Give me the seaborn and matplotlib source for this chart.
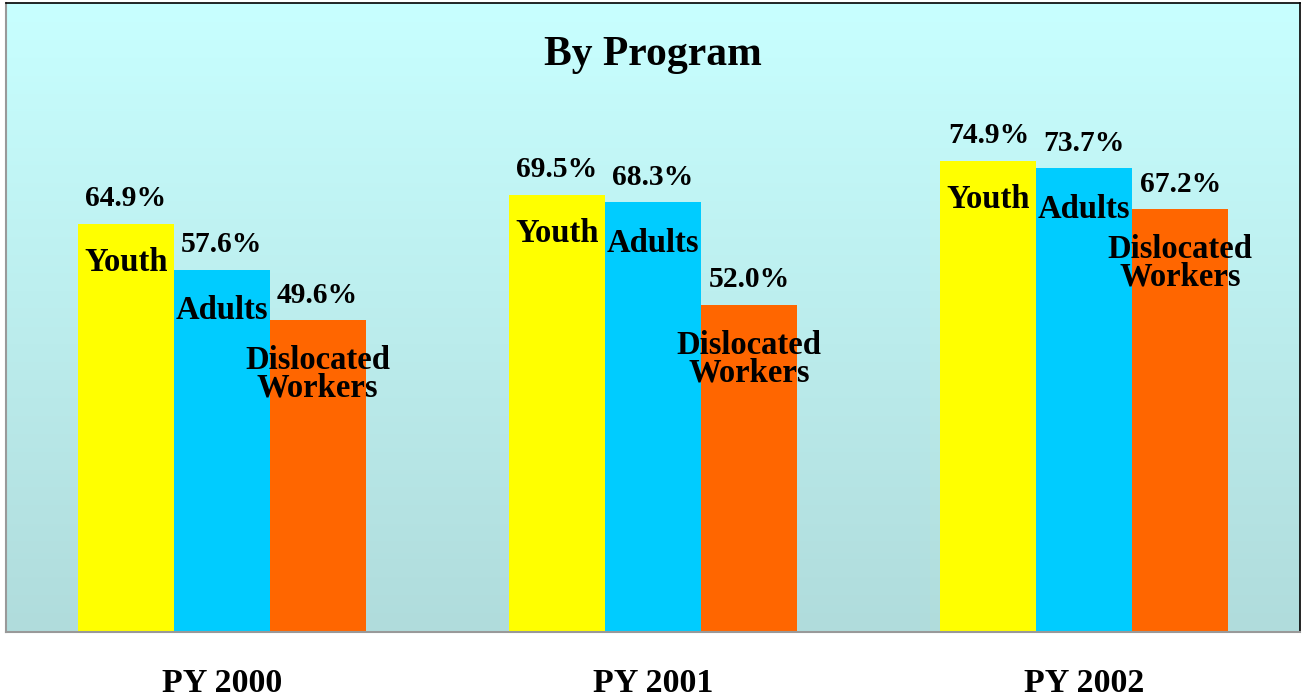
import numpy as np
import pandas as pd
import seaborn as sns
import matplotlib.pyplot as plt
from matplotlib.colors import LinearSegmentedColormap

# data
years = ['PY 2000', 'PY 2001', 'PY 2002']
programs = ['Youth', 'Adults', 'Dislocated\nWorkers']
youth = [64.9, 69.5, 74.9]
adults = [57.6, 68.3, 73.7]
dislocated = [49.6, 52.0, 67.2]
colors = ['#FFFF00', '#00CCFF', '#FF6600']

rows = []
for prog, vals in zip(programs, [youth, adults, dislocated]):
    for yr, v in zip(years, vals):
        rows.append({'year': yr, 'program': prog, 'value': v})
df = pd.DataFrame(rows)

sns.set_style('white')
plt.rcParams['font.family'] = ['Liberation Serif', 'DejaVu Serif']
plt.rcParams['font.weight'] = 'bold'
plt.rcParams['text.color'] = 'black'
plt.rcParams['xtick.color'] = 'black'

fig = plt.figure(figsize=(13.07, 7), dpi=100)
ax = fig.add_axes([6 / 1307, 68 / 700, 1294 / 1307, 629 / 700])

# gradient background
cmap = LinearSegmentedColormap.from_list('bg', ['#B0DCDC', '#C8FFFF'])
grad = np.linspace(0, 1, 256).reshape(-1, 1)
ax.imshow(grad, cmap=cmap, origin='lower', aspect='auto',
          extent=[-0.5, 2.5, 0, 100], zorder=0)

sns.barplot(data=df, x='year', y='value', hue='program', hue_order=programs,
            palette=colors, width=0.667, saturation=1, legend=False, ax=ax,
            linewidth=0, zorder=2)

ax.set_xlim(-0.5, 2.5)
ax.set_ylim(0, 100)
ax.set_xlabel('')
ax.set_ylabel('')
ax.set_yticks([])
ax.tick_params(axis='x', length=0, pad=26, labelsize=24.5, labelcolor='black')
for lab in ax.get_xticklabels():
    lab.set_fontweight('bold')

# label offsets below bar top, in pixels
offsets = [-39, -41, -54]
for cont, prog, off in zip(ax.containers, programs, offsets):
    for bar in cont:
        cx = bar.get_x() + bar.get_width() / 2
        h = bar.get_height()
        ax.annotate(f'{h:.1f}%', (cx, h), xytext=(0, 18), textcoords='offset points',
                    ha='center', va='center', fontsize=21.3, fontweight='bold',
                    color='black', zorder=5)
        ax.annotate(prog, (cx, h), xytext=(0, off * 0.72), textcoords='offset points',
                    ha='center', va='center', fontsize=23.5, fontweight='bold',
                    color='black', linespacing=0.85, zorder=5)

ax.text(0.5, 0.918, 'By Program', transform=ax.transAxes, ha='center', va='center',
        fontsize=30, fontweight='bold', color='black')

for side in ['top', 'right']:
    ax.spines[side].set_color('black')
    ax.spines[side].set_linewidth(1.2)
for side in ['left', 'bottom']:
    ax.spines[side].set_color('#999999')
    ax.spines[side].set_linewidth(1.5)

fig.savefig('out.png', dpi=100, facecolor='white')
